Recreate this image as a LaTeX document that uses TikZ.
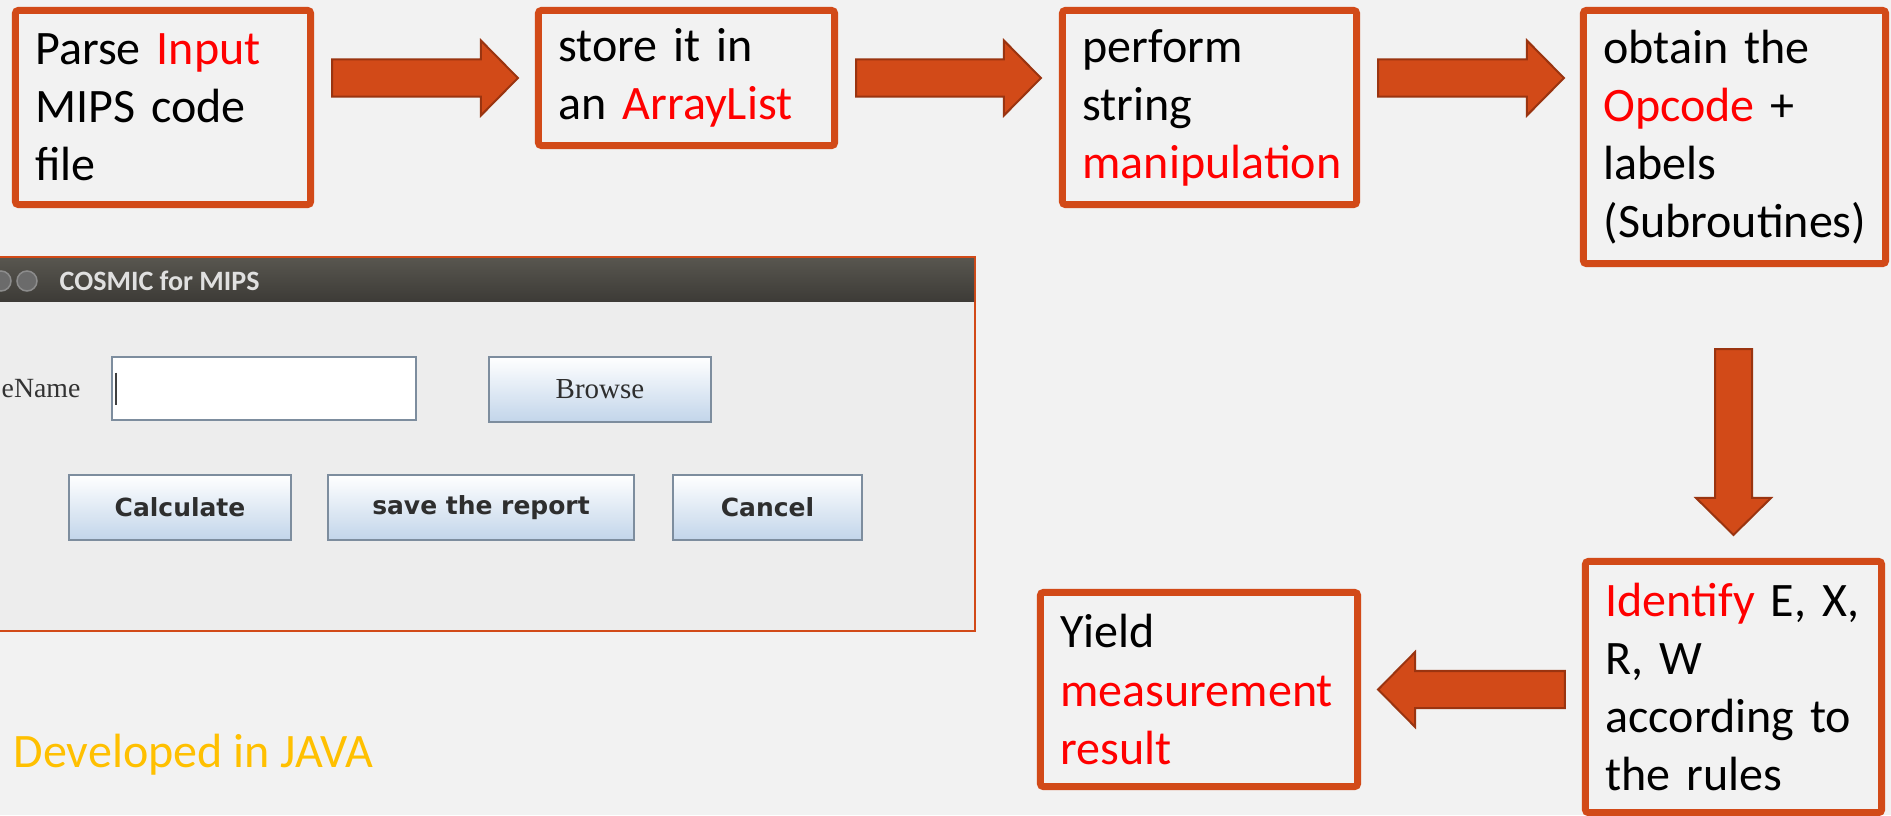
\documentclass[tikz,border=0pt]{standalone}
\usepackage{fontspec}
\setmainfont{Carlito}
\newfontfamily\uisans{DejaVu Sans}
\newfontfamily\uiserif{Liberation Serif}
\usetikzlibrary{calc}

\definecolor{slidebg}{HTML}{F2F2F2}
\definecolor{boxorange}{HTML}{D24A18}
\definecolor{arrowedge}{HTML}{9A3410}
\definecolor{hilite}{HTML}{FF0000}
\definecolor{javagold}{HTML}{FFC000}
\definecolor{winbg}{HTML}{EDEDED}
\definecolor{bartop}{HTML}{58564F}
\definecolor{barbottom}{HTML}{3D3B37}
\definecolor{btnedge}{HTML}{7D8D9E}
\definecolor{btnblue}{HTML}{C2D5EA}

\tikzset{
	flowbox/.style={draw=boxorange, line width=0.07cm, rounded corners=0.03cm,
		inner xsep=0.2cm, align=left, font=\fontsize{13.66pt}{16.5pt}\selectfont},
	blockarrow/.style={draw=arrowedge, fill=boxorange, line width=0.02cm},
	jbutton/.style={draw=btnedge, line width=0.015cm, top color=white, bottom color=btnblue,
		minimum height=0.65cm, text=black!82, inner sep=0pt},
	jfield/.style={draw=btnedge, line width=0.02cm, fill=white, inner sep=0pt},
	winknob/.style={fill=black!58, draw=black!45, line width=0.015cm}
}
\newcommand{\hl}[1]{\textcolor{hilite}{#1}}
\def\blockarrow(#1)(#2){\draw[blockarrow]
	($(#1)!0.185cm!90:(#2)$) -- ($(#2)!0.37cm!(#1)!0.185cm!90:(#2)$)
	-- ($(#2)!0.37cm!(#1)!0.375cm!90:(#2)$) -- (#2)
	-- ($(#2)!0.37cm!(#1)!0.375cm!-90:(#2)$) -- ($(#2)!0.37cm!(#1)!0.185cm!-90:(#2)$)
	-- ($(#1)!0.185cm!-90:(#2)$) -- cycle;}

\begin{document}
\begin{tikzpicture}[x=0.01cm, y=-0.01cm]
	%%%%% START %%%%%
	\useasboundingbox (0,0) rectangle (1891,815);
	\fill[slidebg] (0,0) rectangle (1891,815);

	% the steps
	\node[flowbox, text width=2.55cm, minimum height=1.94cm] (parse) at (163,107.5)
		{Parse \hl{Input}\\MIPS code\\file};
	\node[flowbox, text width=2.56cm, minimum height=1.35cm] (store) at (686.5,78)
		{store it in\\an \hl{ArrayList}};
	\node[flowbox, text width=2.54cm, minimum height=1.94cm] (manip) at (1209.5,107.5)
		{perform\\string\\\hl{manipulation}};
	\node[flowbox, text width=2.62cm, minimum height=2.53cm] (opcode) at (1734.5,137)
		{obtain the\\\hl{Opcode} +\\labels\\(Subroutines)};
	\node[flowbox, text width=2.56cm, minimum height=2.51cm] (identify) at (1733.5,687)
		{\hl{Identify} E, X,\\R, W\\according to\\the rules};
	\node[flowbox, text width=2.77cm, minimum height=1.94cm] (yield) at (1199,689.5)
		{Yield\\\hl{measurement}\\\hl{result}};

	\coordinate (a1s) at ($(parse.east |- store.west)+(18,0)$);
	\coordinate (a1e) at ($(store.west)+(-17,0)$);
	\coordinate (a2s) at ($(store.east)+(18,0)$);
	\coordinate (a2e) at ($(manip.west |- store.west)+(-18,0)$);
	\coordinate (a3s) at ($(manip.east |- store.west)+(18,0)$);
	\coordinate (a3e) at ($(opcode.west |- store.west)+(-16,0)$);
	\coordinate (a4s) at ($(opcode.south)+(-1,82)$);
	\coordinate (a4e) at ($(identify.north)+(0,-23)$);
	\coordinate (a5s) at ($(identify.west |- yield.east)+(-17,0)$);
	\coordinate (a5e) at ($(yield.east)+(17,0)$);

	\blockarrow(a1s)(a1e);
	\blockarrow(a2s)(a2e);
	\blockarrow(a3s)(a3e);
	\blockarrow(a4s)(a4e);
	\blockarrow(a5s)(a5e);

	% the java window
	\draw[fill=winbg, draw=boxorange, line width=0.02cm] (-10,257) rectangle (975,631);
	\shade[top color=bartop, bottom color=barbottom] (-10,258) rectangle (974,301);
	\draw[winknob] (1,281) circle (10);
	\draw[winknob] (27,281) circle (10);
	\node[anchor=base west, text=black!12, inner sep=0pt,
		font=\fontsize{7.97pt}{9pt}\bfseries\selectfont] (wintitle) at (59,290) {COSMIC for MIPS};

	\node[jfield, minimum width=3.04cm, minimum height=0.63cm] (fname) at (264,388.5) {};
	\draw[line width=0.02cm, black!75] ($(fname.west)+(5,-16)$) -- ($(fname.west)+(5,16)$);
	\node[anchor=base west, inner sep=0pt, text=black!80,
		font=\uiserif\fontsize{7.9pt}{10pt}\selectfont] (fnamelbl) at (1,397) {eName};
	\node[jbutton, minimum width=2.22cm, font=\uiserif\fontsize{8.25pt}{10pt}\selectfont]
		(browse) at (600,389.5) {Browse};

	\node[jbutton, minimum width=2.22cm, font=\uisans\fontsize{7.1pt}{9pt}\bfseries\selectfont]
		(calc) at (180,507.5) {Calculate};
	\node[jbutton, minimum width=3.06cm, font=\uisans\fontsize{7.1pt}{9pt}\bfseries\selectfont]
		(report) at (481,507.5) {save the report};
	\node[jbutton, minimum width=1.89cm, font=\uisans\fontsize{7.1pt}{9pt}\bfseries\selectfont]
		(cancel) at (767.5,507.5) {Cancel};

	\node[anchor=base west, inner sep=0pt, text=javagold,
		font=\fontsize{13.66pt}{16.5pt}\selectfont] (lang) at (13,767) {Developed in JAVA};
	%%%%% END %%%%%
\end{tikzpicture}
\end{document}
